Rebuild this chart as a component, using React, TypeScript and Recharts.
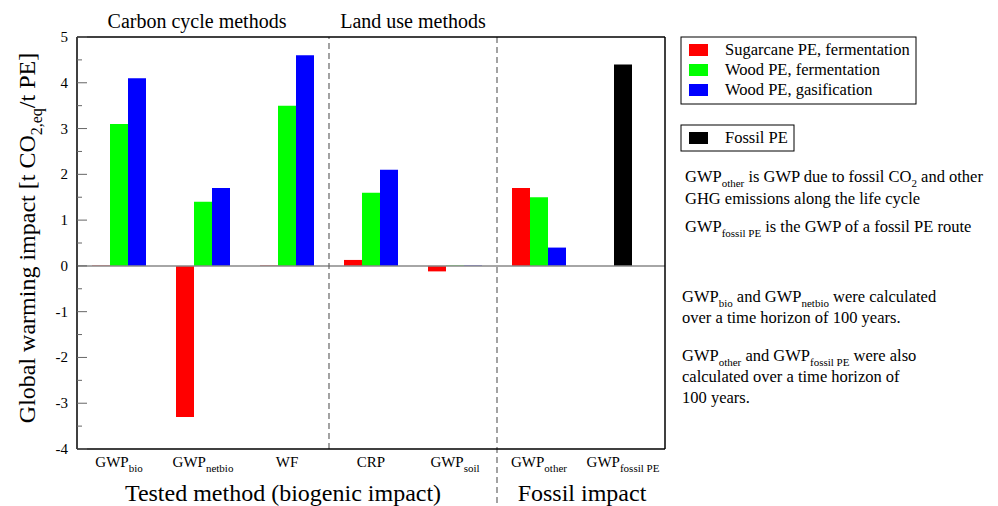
import { BarChart, Bar, XAxis, YAxis, ReferenceLine } from 'recharts'

const categories = ['bio', 'netbio', 'WF', 'CRP', 'soil', 'other', 'fossil']
const tickMain = ['GWP', 'GWP', 'WF', 'CRP', 'GWP', 'GWP', 'GWP']
const tickSub = ['bio', 'netbio', '', '', 'soil', 'other', 'fossil PE']

const sugarcaneFerm = [0.01, -3.3, 0.01, 0.13, -0.12, 1.7, null]
const woodFerm = [3.1, 1.4, 3.5, 1.6, 0.01, 1.5, null]
const woodGas = [4.1, 1.7, 4.6, 2.1, 0.01, 0.4, null]
const fossilPE = [null, null, null, null, null, null, 4.4]

const yTicks = [-4, -3.5, -3, -2.5, -2, -1.5, -1, -0.5, 0, 0.5, 1, 1.5, 2, 2.5, 3, 3.5, 4, 4.5, 5]

const data = categories.map((c, i) => ({
  cat: c,
  sugar: sugarcaneFerm[i],
  woodF: woodFerm[i],
  woodG: woodGas[i],
  fossil: fossilPE[i],
}))

const FONT = '"Liberation Serif", "Times New Roman", serif'

function LeftTick(props: any) {
  const { x, y, payload } = props
  const major = Number.isInteger(payload.value)
  const ax = x + 9
  return (
    <g>
      <line x1={ax} x2={ax + (major ? 10 : 5)} y1={y} y2={y} stroke="#666" />
      {major && (
        <text x={x} y={y} dy={5} textAnchor="end" fontSize={15} fontFamily={FONT} fill="#000">
          {payload.value}
        </text>
      )}
    </g>
  )
}

function RightTick(props: any) {
  const { x, y, payload } = props
  const major = Number.isInteger(payload.value)
  return <line x1={x} x2={x - (major ? 10 : 5)} y1={y} y2={y} stroke="#666" />
}

function CatTick(props: any) {
  const { x, y, index } = props
  const sub = tickSub[index]
  return (
    <text x={x} y={y + 18} textAnchor="middle" fontSize={15} fontFamily={FONT} fill="#000">
      {tickMain[index]}
      {sub && (
        <tspan dy={5} fontSize={11}>
          {sub}
        </tspan>
      )}
    </text>
  )
}

function Sub({ t }: { t: string }) {
  return (
    <>
      <tspan dy={5} fontSize={11}>
        {t}
      </tspan>
      <tspan dy={-5}> </tspan>
    </>
  )
}

export default function App() {
  return (
    <div style={{ position: 'relative', width: 990, height: 498, fontFamily: FONT }}>
      <BarChart
        width={990}
        height={498}
        data={data}
        margin={{ top: 28, right: 323, bottom: 27, left: 39 }}
        barGap={0}
        barCategoryGap={0}
      >
        <XAxis
          dataKey="cat"
          height={30}
          tick={<CatTick />}
          tickLine={false}
          tickSize={0}
          tickMargin={0}
          axisLine={{ stroke: '#000', strokeWidth: 1.5 }}
          interval={0}
        />
        <XAxis
          xAxisId="t"
          dataKey="cat"
          orientation="top"
          height={1}
          tick={false}
          tickLine={false}
          axisLine={{ stroke: '#000', strokeWidth: 1.5 }}
        />
        <YAxis
          type="number"
          domain={[-4, 5]}
          ticks={yTicks}
          width={30}
          tick={<LeftTick />}
          tickLine={false}
          tickSize={0}
          tickMargin={9}
          interval={0}
          axisLine={{ stroke: '#000', strokeWidth: 1.5 }}
        />
        <YAxis
          yAxisId="r"
          orientation="right"
          type="number"
          domain={[-4, 5]}
          ticks={yTicks}
          width={10}
          tick={<RightTick />}
          tickLine={false}
          tickSize={0}
          tickMargin={0}
          interval={0}
          axisLine={{ stroke: '#000', strokeWidth: 1.5 }}
        />
        <ReferenceLine y={0} stroke="#888" strokeWidth={1.5} />
        <ReferenceLine x="CRP" position="start" stroke="#666" strokeDasharray="6 4" strokeWidth={1.2} />
        <ReferenceLine
          segment={[
            { x: 'other', y: 5 },
            { x: 'other', y: -5.3 },
          ]}
          position="start"
          ifOverflow="visible"
          stroke="#666"
          strokeDasharray="6 4"
          strokeWidth={1.2}
        />
        <Bar dataKey="sugar" stackId="a" fill="#ff0000" barSize={18} isAnimationActive={false} />
        <Bar dataKey="woodF" stackId="b" fill="#00ff00" barSize={18} isAnimationActive={false} />
        <Bar dataKey="fossil" stackId="b" fill="#000000" barSize={18} isAnimationActive={false} />
        <Bar dataKey="woodG" stackId="c" fill="#0000ff" barSize={18} isAnimationActive={false} />
      </BarChart>

      <svg
        width={990}
        height={498}
        style={{ position: 'absolute', left: 0, top: 0, pointerEvents: 'none', overflow: 'visible' }}
        fontFamily={FONT}
        fill="#000"
      >
        <text x={189} y={20} fontSize={20} textAnchor="middle">Carbon cycle methods</text>
        <text x={405} y={20} fontSize={20} textAnchor="middle">Land use methods</text>
        <text x={275} y={493} fontSize={24} textAnchor="middle">Tested method (biogenic impact)</text>
        <text x={574} y={493} fontSize={24} textAnchor="middle">Fossil impact</text>
        <text transform="translate(27,230) rotate(-90)" fontSize={24} textAnchor="middle">
          Global warming impact [t CO<tspan dy={7} fontSize={16}>2,eq</tspan>
          <tspan dy={-7}>/t PE]</tspan>
        </text>

        <rect x={673} y={29} width={235} height={67} fill="#fff" stroke="#000" />
        <rect x={681} y={36} width={19} height={12} fill="#ff0000" />
        <rect x={681} y={56} width={19} height={12} fill="#00ff00" />
        <rect x={681} y={76} width={19} height={12} fill="#0000ff" />
        <text x={717} y={47} fontSize={16.5}>Sugarcane PE, fermentation</text>
        <text x={717} y={67} fontSize={16.5}>Wood PE, fermentation</text>
        <text x={717} y={87} fontSize={16.5}>Wood PE, gasification</text>

        <rect x={673} y={117} width={113} height={26} fill="#fff" stroke="#000" />
        <rect x={681} y={124} width={19} height={12} fill="#000" />
        <text x={717} y={135} fontSize={16.5}>Fossil PE</text>

        <g fontSize={16.5}>
          <text x={677} y={174}>
            GWP<Sub t="other" />is GWP due to fossil CO<tspan dy={5} fontSize={11}>2</tspan>
            <tspan dy={-5}> and other</tspan>
          </text>
          <text x={677} y={196}>GHG emissions along the life cycle</text>
          <text x={677} y={224}>
            GWP<Sub t="fossil PE" />is the GWP of a fossil PE route
          </text>
          <text x={674} y={294}>
            GWP<Sub t="bio" />and GWP<Sub t="netbio" />were calculated
          </text>
          <text x={674} y={315}>over a time horizon of 100 years.</text>
          <text x={674} y={353}>
            GWP<Sub t="other" />and GWP<Sub t="fossil PE" />were also
          </text>
          <text x={674} y={374}>calculated over a time horizon of</text>
          <text x={674} y={395}>100 years.</text>
        </g>
      </svg>
    </div>
  )
}
